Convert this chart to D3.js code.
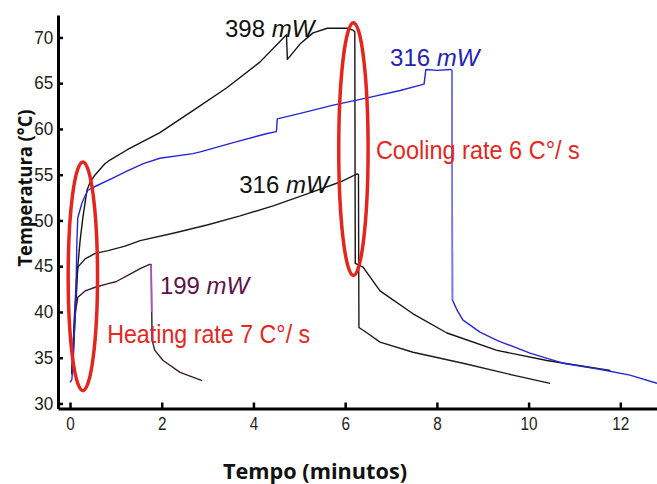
<!DOCTYPE html>
<html>
<head>
<meta charset="utf-8">
<script src="https://cdn.jsdelivr.net/npm/d3@7"></script>
<style>
  html, body { margin: 0; padding: 0; background: #fff; }
  svg { display: block; }
</style>
</head>
<body>
<svg id="chart" width="657" height="484"></svg>
<script>
// ---- data (time in minutes, temperature in °C) ----
const timeTicks = [0, 2, 4, 6, 8, 10, 12];
const tempTicks = [30, 35, 40, 45, 50, 55, 60, 65, 70];

const black398 = [
  [0.04,33.2],[0.12,40.0],[0.17,45.0],[0.22,47.8],[0.28,50.3],[0.37,53.3],[0.44,54.2],
  [0.55,55.0],[0.76,56.2],[0.87,56.6],[1.24,57.7],[1.96,59.6],[2.68,62.0],[3.42,64.5],
  [4.14,67.3],[4.72,70.3],[4.74,67.6],[5.02,69.3],[5.30,70.5],[5.61,71.0],[6.04,71.0],
  [6.17,70.8],[6.21,70.6],[6.22,45.3],[6.39,44.9],[6.76,42.3],[7.48,39.8],[8.22,37.7],
  [9.31,35.8],[10.40,34.7],[11.78,33.6]
];
const black316 = [
  [0.04,33.2],[0.10,40.0],[0.14,43.5],[0.17,44.9],[0.33,45.8],[0.55,46.4],[0.83,46.7],
  [1.20,47.2],[1.53,47.8],[2.25,48.6],[2.99,49.5],[3.71,50.5],[4.43,51.6],[5.17,52.9],
  [5.89,54.2],[6.26,55.1],[6.29,55.0],[6.30,38.3],[6.48,37.7],[6.76,36.7],[7.48,35.6],
  [8.57,34.4],[9.66,33.1],[10.47,32.2]
];
const blue316 = [
  [0.00,32.3],[0.04,32.6],[0.07,34.5],[0.09,36.9],[0.13,42.3],[0.15,47.8],[0.17,50.3],
  [0.26,51.9],[0.33,52.7],[0.39,53.3],[0.50,53.6],[0.92,54.6],[1.24,55.4],[1.60,56.2],
  [1.96,56.8],[2.68,57.3],[2.84,57.5],[3.56,58.5],[4.30,59.5],[4.50,59.7],[4.52,61.1],
  [5.02,61.7],[5.74,62.6],[6.48,63.4],[7.20,64.2],[7.72,64.9],[7.76,66.5],[8.00,66.4],
  [8.29,66.5],[8.33,66.4],[8.34,41.3],[8.44,40.2],[8.57,39.1],[8.94,37.8],[9.31,36.9],
  [10.03,35.5],[10.75,34.4],[11.49,33.8],[12.21,33.1],[12.80,32.2]
];
const purple199 = [
  [0.04,33.5],[0.07,36.0],[0.09,38.5],[0.11,39.8],[0.17,41.6],[0.33,42.3],[0.55,42.7],
  [0.83,43.1],[1.00,43.3],[1.30,44.1],[1.55,44.8],[1.74,45.2],[1.77,45.2],[1.79,36.9],
  [1.85,35.8],[2.03,34.7],[2.40,33.4],[2.88,32.5]
];
// vertical switch-off drops drawn in a lighter tone (data points from the series above)
const blueDrop = [[8.33,66.4],[8.34,41.3]];
const purpleDrop = [[1.77,45.2],[1.78,40.0]];

// annotation anchors (data coordinates)
const labels = [
  { t: 3.38, T: 70.0, num: "398 ", unit: "mW", color: "#111111" },
  { t: 6.98, T: 66.9, num: "316 ", unit: "mW", color: "#2424b0" },
  { t: 3.69, T: 52.95, num: "316 ", unit: "mW", color: "#111111" },
  { t: 1.96, T: 42.0, num: "199 ", unit: "mW", color: "#5c1448" }
];
const notes = [
  { t: 0.81, T: 36.56, text: "Heating rate 7 C°/ s", len: 203 },
  { t: 6.67, T: 56.67, text: "Cooling rate 6 C°/ s", len: 204 }
];
const ellipses = [
  { t: 0.28, T: 43.9, rt: 0.32, rT: 12.5 },
  { t: 6.18, T: 57.8, rt: 0.32, rT: 13.8 }
];

// ---- scales ----
const svg = d3.select("#chart");
const x = d3.scaleLinear().domain([-0.262, 12.80]).range([58, 657]);
const y = d3.scaleLinear().domain([29.45, 72.45]).range([408.5, 15]);

// ---- curves ----
const line = d3.line().x(d => x(d[0])).y(d => y(d[1]));
const series = [
  { data: black398, color: "#141414", w: 1.4 },
  { data: black316, color: "#1c1c1c", w: 1.4 },
  { data: purple199, color: "#3a1838", w: 1.4 },
  { data: blue316, color: "#2626d6", w: 1.4 },
  { data: blueDrop, color: "#7a7aea", w: 1.6 },
  { data: purpleDrop, color: "#b04cc8", w: 1.6 }
];
svg.append("g").selectAll("path").data(series).join("path")
  .attr("d", d => line(d.data))
  .attr("fill", "none")
  .attr("stroke", d => d.color)
  .attr("stroke-width", d => d.w)
  .attr("stroke-linejoin", "round");

// ---- axes ----
const yAxis = d3.axisLeft(y).tickValues(tempTicks).tickSizeInner(-5).tickSizeOuter(0).tickPadding(5);
const xAxis = d3.axisBottom(x).tickValues(timeTicks).tickSizeInner(-6).tickSizeOuter(0).tickPadding(9);

const gy = svg.append("g").attr("transform", "translate(58,0)").call(yAxis);
const gx = svg.append("g").attr("transform", "translate(0,408.5)").call(xAxis);
[gx, gy].forEach(g => {
  g.select(".domain").attr("stroke", "#000").attr("stroke-width", 3);
  g.selectAll(".tick line").attr("stroke", "#000").attr("stroke-width", 2.5);
  g.selectAll(".tick text").attr("fill", "#222")
    .style("font-family", "'Liberation Sans', Arial, sans-serif").style("font-size", "18px");
});
gx.selectAll(".tick text").attr("transform", "scale(0.85,1)");
gy.selectAll(".tick text").attr("transform", "scale(0.95,1)");

// ---- red ellipses ----
svg.append("g").selectAll("ellipse").data(ellipses).join("ellipse")
  .attr("cx", d => x(d.t)).attr("cy", d => y(d.T))
  .attr("rx", d => x(d.t + d.rt) - x(d.t))
  .attr("ry", d => y(d.T - d.rT) - y(d.T))
  .attr("fill", "none").attr("stroke", "#e5251d").attr("stroke-width", 3.5);

// ---- power labels ----
const lab = svg.append("g").selectAll("text").data(labels).join("text")
  .attr("x", d => x(d.t)).attr("y", d => y(d.T))
  .attr("fill", d => d.color)
  .style("font-family", "'Liberation Sans', Arial, sans-serif")
  .style("font-size", "24px");
lab.append("tspan").text(d => d.num);
lab.append("tspan").style("font-style", "italic").text(d => d.unit);

// ---- rate notes ----
svg.append("g").selectAll("text").data(notes).join("text")
  .attr("x", d => x(d.t)).attr("y", d => y(d.T))
  .attr("fill", "#e5281f")
  .attr("textLength", d => d.len).attr("lengthAdjust", "spacingAndGlyphs")
  .style("font-family", "'Liberation Sans', Arial, sans-serif")
  .style("font-size", "25px")
  .text(d => d.text);

// ---- axis titles ----
svg.append("text")
  .attr("x", 315).attr("y", 479)
  .attr("text-anchor", "middle")
  .attr("textLength", 184).attr("lengthAdjust", "spacingAndGlyphs")
  .style("font-family", "'Open Sans', 'Noto Sans', sans-serif")
  .style("font-weight", "bold").style("font-size", "21px")
  .attr("fill", "#111")
  .text("Tempo (minutos)");
svg.append("text")
  .attr("transform", "translate(32,188) rotate(-90)")
  .attr("text-anchor", "middle")
  .attr("textLength", 157).attr("lengthAdjust", "spacingAndGlyphs")
  .style("font-family", "'Open Sans', 'Noto Sans', sans-serif")
  .style("font-weight", "bold").style("font-size", "20px")
  .attr("fill", "#111")
  .text("Temperatura (°C)");
</script>
</body>
</html>
